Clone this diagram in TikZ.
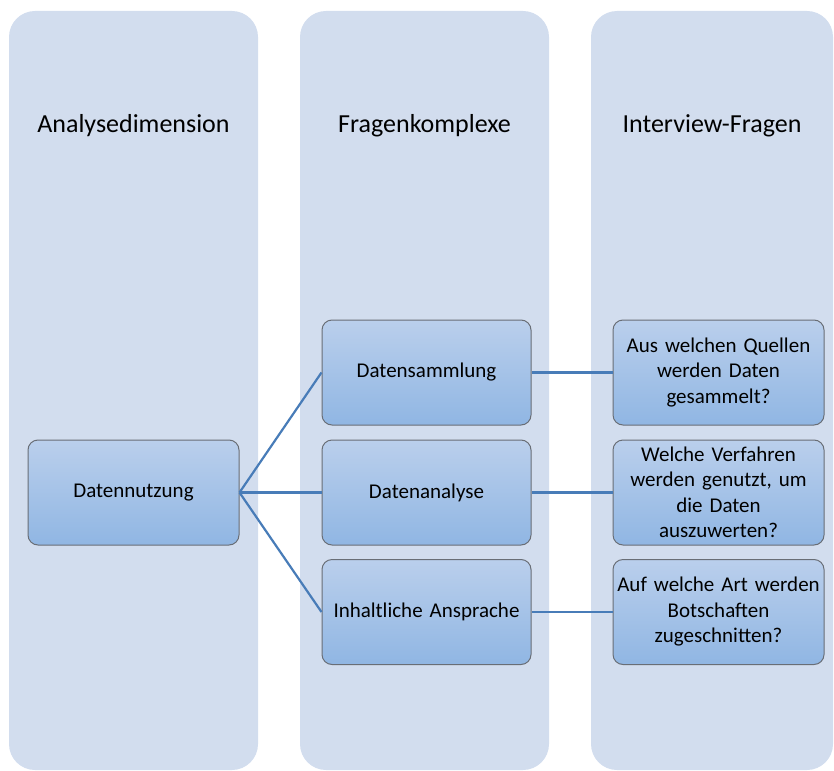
\documentclass[tikz,border=0pt]{standalone}
\usepackage{fontspec}
\setmainfont{Carlito}
\definecolor{lane}{RGB}{210,221,238}
\definecolor{boxtop}{RGB}{186,207,236}
\definecolor{boxbot}{RGB}{144,182,227}
\definecolor{boxedge}{RGB}{105,110,118}
\definecolor{linkblue}{RGB}{72,124,184}
\begin{document}
\begin{tikzpicture}[x=1pt,y=-1pt,
  lanebox/.style={rectangle,rounded corners=26pt,fill=lane,draw=none,
    minimum width=249pt,minimum height=759pt,inner sep=0pt},
  header/.style={font=\fontsize{26}{31}\selectfont,text=black,inner sep=0pt},
  itembox/.style={rectangle,rounded corners=10pt,draw=boxedge,line width=1pt,
    top color=boxtop,bottom color=boxbot,minimum width=210pt,minimum height=105pt,
    inner sep=0pt,align=center,text width=206pt,
    font=\fontsize{21}{25.5}\selectfont},
  link/.style={draw=linkblue,line width=2.2pt}]
\useasboundingbox (0,0) rectangle (834,770);

% three lanes
\node[lanebox] (laneA) at (133.5,390.5) {};
\node[lanebox] (laneB) at (424.5,390.5) {};
\node[lanebox,minimum width=242pt] (laneC) at (712,390.5) {};

% lane titles
\node[header] (hA) at (133.5,126) {Analysedimension};
\node[header] (hB) at (424.5,126) {Fragenkomplexe};
\node[header] (hC) at (712,126) {Interview-Fragen};

% analysis dimension
\node[itembox,minimum width=211pt] (dn) at (133.5,492.5) {Datennutzung};

% question groups
\node[itembox,minimum width=209pt] (ds) at (426.5,372.5) {Datensammlung};
\node[itembox,minimum width=209pt] (da) at (426.5,492.5) {Datenanalyse};
\node[itembox,minimum width=209pt] (ia) at (426.5,612) {Inhaltliche Ansprache};

% interview questions
\node[itembox,minimum width=211pt] (q1) at (718.5,372.5) {Aus welchen Quellen\\werden Daten\\gesammelt?};
\node[itembox,minimum width=211pt] (q2) at (718.5,492.5) {Welche Verfahren\\werden genutzt, um\\die Daten\\auszuwerten?};
\node[itembox,minimum width=211pt] (q3) at (718.5,612) {Auf welche Art werden\\Botschaften\\zugeschnitten?};

% connectors
\draw[link] (dn.east) -- (ds.west);
\draw[link] (dn.east) -- (da.west);
\draw[link] (dn.east) -- (ia.west);
\draw[link] (ds.east) -- (q1.west);
\draw[link] (da.east) -- (q2.west);
\draw[link] (ia.east) -- (q3.west);
\end{tikzpicture}
\end{document}
